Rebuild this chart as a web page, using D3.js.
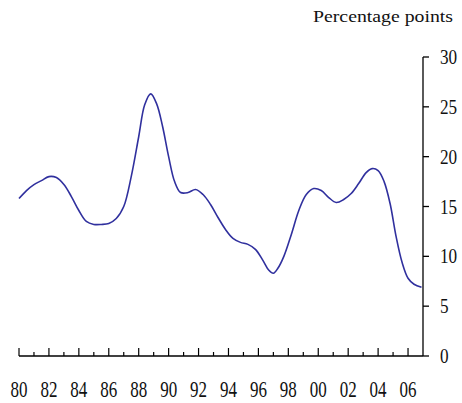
<!DOCTYPE html>
<html><head><meta charset="utf-8">
<script src="https://cdn.jsdelivr.net/npm/d3@7"></script>
<style>html,body{margin:0;padding:0;background:#fff;}svg{display:block;}</style>
</head><body>
<script>
const years = [1980.0,1980.5,1981.0,1981.5,1982.0,1982.5,1983.0,1983.5,1984.0,1984.5,1985.0,1985.5,1986.0,1986.5,1987.0,1987.5,1988.0,1988.4,1988.8,1989.2,1989.6,1990.0,1990.4,1990.8,1991.3,1991.8,1992.3,1992.8,1993.3,1993.8,1994.3,1994.8,1995.3,1995.8,1996.3,1996.7,1997.0,1997.3,1997.7,1998.2,1998.7,1999.2,1999.7,2000.2,2000.7,2001.2,2001.7,2002.2,2002.7,2003.2,2003.6,2004.0,2004.4,2004.8,2005.2,2005.6,2006.0,2006.4,2006.9];
const values = [15.8,16.6,17.2,17.6,18.0,17.9,17.2,16.0,14.6,13.5,13.2,13.2,13.3,13.8,15.0,18.0,22.0,25.2,26.3,25.3,23.0,20.0,17.5,16.4,16.4,16.7,16.2,15.2,13.9,12.7,11.8,11.4,11.2,10.7,9.6,8.6,8.3,8.8,10.0,12.2,14.6,16.2,16.8,16.6,15.9,15.4,15.7,16.3,17.3,18.4,18.8,18.6,17.5,15.3,12.0,9.4,7.8,7.2,6.9];
const yTicks = [0,5,10,15,20,25,30];
const xLabelYears = [1980,1982,1984,1986,1988,1990,1992,1994,1996,1998,2000,2002,2004,2006];
const xLabels = ["80","82","84","86","88","90","92","94","96","98","00","02","04","06"];
const title = "Percentage points";

const W = 462, H = 403;
const svg = d3.select("body").append("svg").attr("width", W).attr("height", H);
const x = d3.scaleLinear().domain([1980, 2007]).range([19, 423]);
const y = d3.scaleLinear().domain([0, 30]).range([356, 57]);
const font = "'Liberation Serif','Times New Roman',serif";

// y axis (right)
svg.append("line").attr("x1", x(2007)).attr("x2", x(2007)).attr("y1", y(30)).attr("y2", y(0))
  .attr("stroke", "#000").attr("stroke-width", 1.3);
yTicks.forEach(v => {
  svg.append("line").attr("x1", x(2007)).attr("x2", x(2007) + 6).attr("y1", y(v)).attr("y2", y(v))
    .attr("stroke", "#000").attr("stroke-width", 1.3);
  svg.append("g").attr("transform", `translate(440,${y(v) + 7})`)
    .append("text").attr("transform", "scale(0.78,1)")
    .attr("font-family", font).attr("font-size", 22).attr("fill", "#111").text(v);
});

// x axis (bottom)
svg.append("line").attr("x1", x(1980)).attr("x2", x(2007)).attr("y1", y(0)).attr("y2", y(0))
  .attr("stroke", "#000").attr("stroke-width", 1.3);
d3.range(1980, 2007).forEach(yr => {
  const len = (yr % 2 === 0) ? 8 : 4;
  svg.append("line").attr("x1", x(yr)).attr("x2", x(yr)).attr("y1", y(0)).attr("y2", y(0) - len)
    .attr("stroke", "#000").attr("stroke-width", 1.2);
});
xLabelYears.forEach((yr, i) => {
  svg.append("g").attr("transform", `translate(${x(yr)},397)`)
    .append("text").attr("transform", "scale(0.74,1)").attr("text-anchor", "middle")
    .attr("font-family", font).attr("font-size", 23).attr("fill", "#111").text(xLabels[i]);
});

// title
svg.append("text").attr("x", 313).attr("y", 22).attr("font-family", font).attr("font-size", 16)
  .attr("textLength", 140).attr("lengthAdjust", "spacingAndGlyphs").attr("fill", "#111").text(title);

// line
const data = years.map((d, i) => [d, values[i]]);
svg.append("path").datum(data)
  .attr("d", d3.line().x(d => x(d[0])).y(d => y(d[1])).curve(d3.curveCatmullRom.alpha(0.5)))
  .attr("fill", "none").attr("stroke", "#30309e").attr("stroke-width", 1.6);
</script>
</body></html>
